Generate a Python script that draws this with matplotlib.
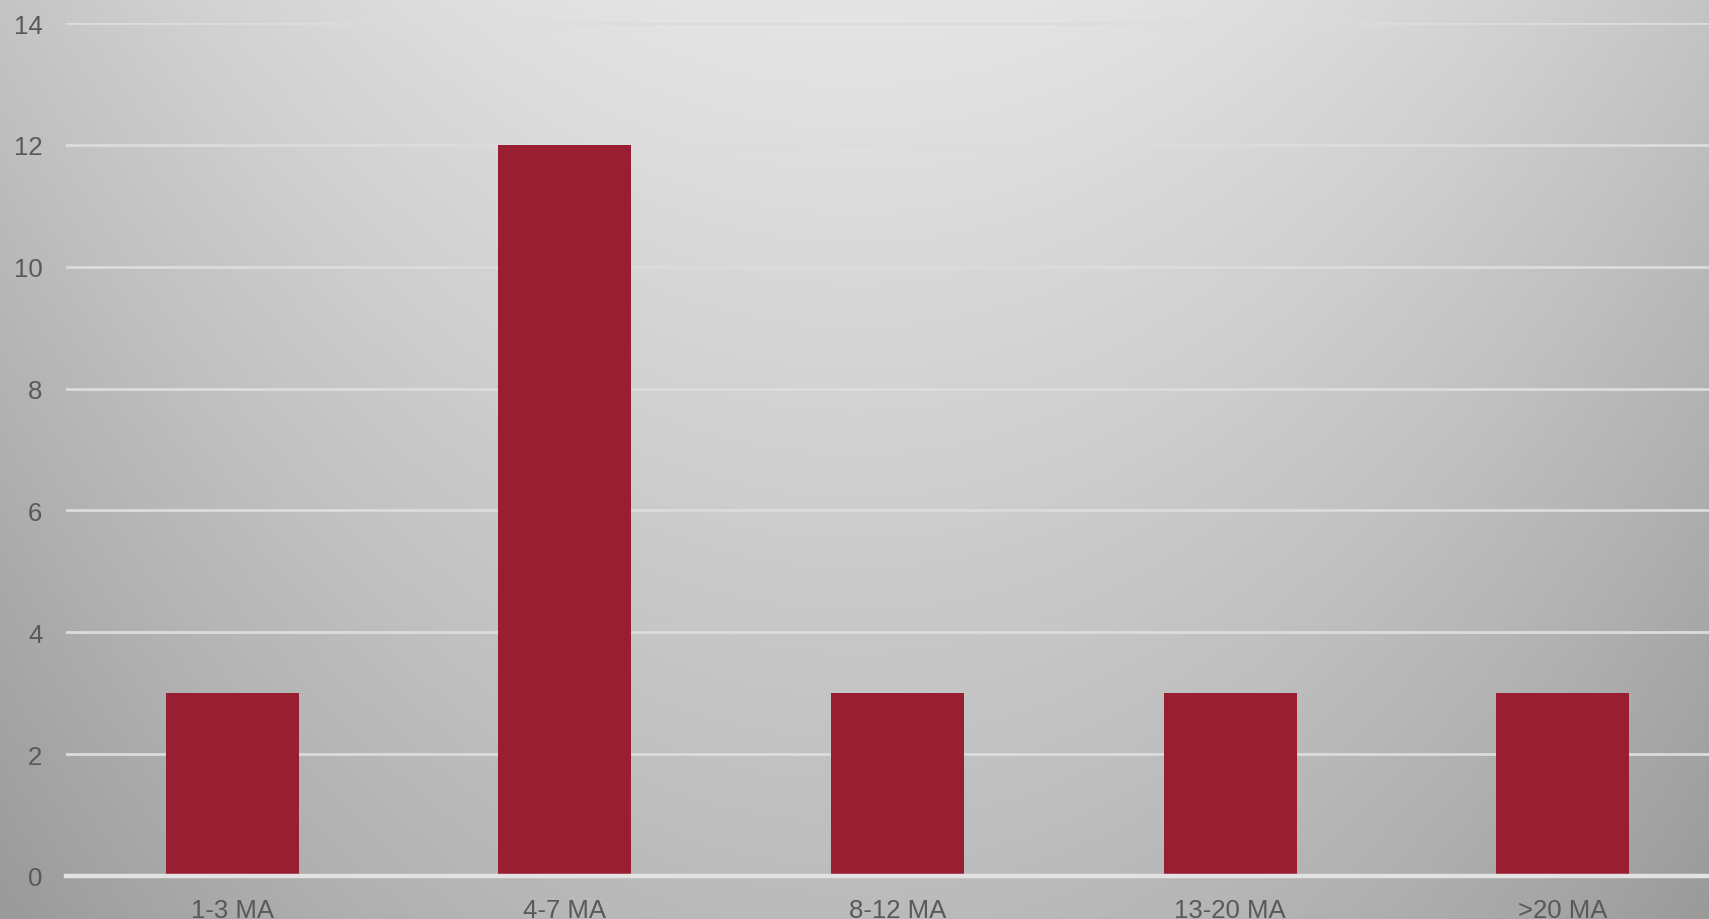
import numpy as np
import matplotlib
matplotlib.use('Agg')
import matplotlib.pyplot as plt

categories = ['1-3 MA', '4-7 MA', '8-12 MA', '13-20 MA', '>20 MA']
counts = [3, 12, 3, 3, 3]
yticks = [0, 2, 4, 6, 8, 10, 12, 14]

W, H = 1709, 920
fig = plt.figure(figsize=(W / 100, H / 100), dpi=100)

# soft radial-ish grey background, lightest at top centre
bg = fig.add_axes([0, 0, 1, 1])
xx, yy = np.meshgrid(np.arange(W), np.arange(H))
shade = 229 - 33 * ((xx - 855) / 855.0) ** 2 - 0.046 * yy
shade = np.clip(shade, 0, 255) / 255.0
bg.imshow(np.dstack([shade, shade, shade]), aspect='auto', extent=[0, 1, 0, 1], interpolation='bilinear')
bg.set_axis_off()

left = 66 / W
bottom = (H - 877) / H
top = (H - 24) / H
ax = fig.add_axes([left, bottom, 1 - left, top - bottom])
ax.patch.set_alpha(0)

x = np.arange(len(categories))
ax.bar(x, counts, width=0.4, color='#981E32', zorder=3)

ax.set_xlim(-0.5, 4.44)
ax.set_ylim(0, 14)
ax.set_yticks(yticks)
ax.set_xticks(x)
ax.set_xticklabels(categories)
ax.grid(axis='y', color='#DCDCDC', linewidth=2, zorder=1)
ax.axhline(0, color='#E2E2E2', linewidth=3.2, zorder=4, clip_on=False)
for s in ax.spines.values():
    s.set_visible(False)
ax.tick_params(axis='both', length=0, labelsize=18.5, labelcolor='#595959')
ax.tick_params(axis='y', pad=17)
ax.tick_params(axis='x', pad=16)
for lab in ax.get_yticklabels() + ax.get_xticklabels():
    lab.set_family('Liberation Sans')

fig.savefig('out.png', dpi=100)
